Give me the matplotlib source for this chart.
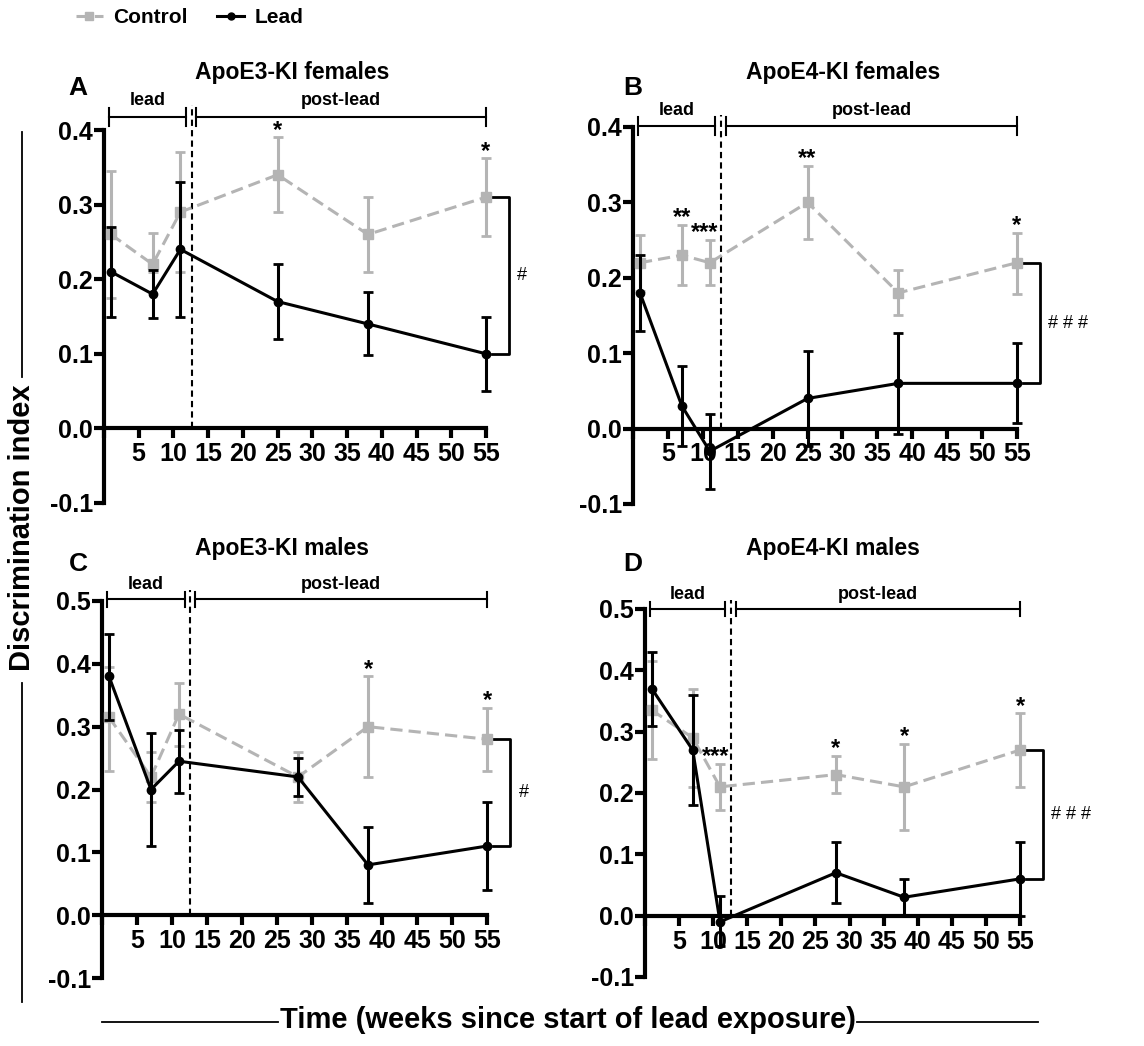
import matplotlib
matplotlib.use("Agg")
import matplotlib.pyplot as plt
from matplotlib.lines import Line2D

plt.rcParams['font.family'] = ['Liberation Sans', 'DejaVu Sans']
plt.rcParams['font.weight'] = 'bold'

# time points (weeks)
weeks_fem = [1, 7, 11, 25, 38, 55]
weeks_male = [1, 7, 11, 28, 38, 55]

# panel A: ApoE3-KI females
ctrl_A = [0.26, 0.22, 0.29, 0.34, 0.26, 0.31]
ctrl_A_lo = [0.175, 0.21, 0.21, 0.29, 0.21, 0.258]
ctrl_A_hi = [0.345, 0.262, 0.37, 0.39, 0.31, 0.362]
lead_A = [0.21, 0.18, 0.24, 0.17, 0.14, 0.10]
lead_A_lo = [0.15, 0.148, 0.15, 0.12, 0.098, 0.05]
lead_A_hi = [0.27, 0.212, 0.33, 0.22, 0.183, 0.15]

# panel B: ApoE4-KI females
ctrl_B = [0.22, 0.23, 0.22, 0.30, 0.18, 0.22]
ctrl_B_lo = [0.183, 0.19, 0.19, 0.252, 0.15, 0.178]
ctrl_B_hi = [0.257, 0.27, 0.25, 0.348, 0.21, 0.26]
lead_B = [0.18, 0.03, -0.03, 0.04, 0.06, 0.06]
lead_B_lo = [0.13, -0.023, -0.08, -0.023, -0.007, 0.007]
lead_B_hi = [0.23, 0.083, 0.02, 0.103, 0.127, 0.113]

# panel C: ApoE3-KI males
ctrl_C = [0.315, 0.22, 0.32, 0.22, 0.30, 0.28]
ctrl_C_lo = [0.23, 0.18, 0.27, 0.18, 0.22, 0.23]
ctrl_C_hi = [0.395, 0.26, 0.37, 0.26, 0.38, 0.33]
lead_C = [0.38, 0.20, 0.245, 0.22, 0.08, 0.11]
lead_C_lo = [0.31, 0.11, 0.195, 0.19, 0.02, 0.04]
lead_C_hi = [0.447, 0.29, 0.295, 0.25, 0.14, 0.18]

# panel D: ApoE4-KI males
ctrl_D = [0.335, 0.29, 0.21, 0.23, 0.21, 0.27]
ctrl_D_lo = [0.255, 0.21, 0.172, 0.20, 0.14, 0.21]
ctrl_D_hi = [0.415, 0.37, 0.248, 0.26, 0.28, 0.33]
lead_D = [0.37, 0.27, -0.01, 0.07, 0.03, 0.06]
lead_D_lo = [0.31, 0.18, -0.05, 0.02, 0.0, 0.0]
lead_D_hi = [0.43, 0.36, 0.032, 0.12, 0.06, 0.12]

# significance marks: (week, label)
stars_A = [(25, '*'), (55, '*')]
stars_B = [(7, '**'), (10.3, '***'), (25, '**'), (55, '*')]
stars_C = [(38, '*'), (55, '*')]
stars_D = [(10.3, '***'), (28, '*'), (38, '*'), (55, '*')]
hash_A, hash_B, hash_C, hash_D = '#', '# # #', '#', '# # #'

GRAY = '#b4b4b4'
W, H = 1144, 1046

fig = plt.figure(figsize=(W / 100, H / 100), dpi=100)


def px_axes(left, top, right, bottom):
    return fig.add_axes([left / W, 1 - bottom / H, (right - left) / W, (bottom - top) / H])


def draw_panel(ax, weeks, c, c_lo, c_hi, l, l_lo, l_hi, ytop, stars, hsh,
               letter, title, letter_xy, title_xy, bar_y):
    ctrl_err = [[m - lo for m, lo in zip(c, c_lo)], [hi - m for m, hi in zip(c, c_hi)]]
    lead_err = [[m - lo for m, lo in zip(l, l_lo)], [hi - m for m, hi in zip(l, l_hi)]]
    ax.errorbar(weeks, c, yerr=ctrl_err, color=GRAY, ls=(0, (4, 2)), lw=2.2,
                marker='s', ms=7, capsize=3.5, capthick=2, elinewidth=2.2,
                clip_on=False, zorder=3)
    ax.errorbar(weeks, l, yerr=lead_err, color='black', ls='-', lw=2.2,
                marker='o', ms=6, capsize=3.5, capthick=2, elinewidth=2.2,
                clip_on=False, zorder=4)

    ax.set_xlim(0, 55)
    ax.set_ylim(-0.1, ytop)
    ax.spines['top'].set_visible(False)
    ax.spines['right'].set_visible(False)
    ax.spines['bottom'].set_position(('data', 0))
    for s in ('left', 'bottom'):
        ax.spines[s].set_linewidth(3)
    xt = list(range(0, 60, 5))
    ax.set_xticks(xt)
    ax.set_xticklabels([''] + [str(v) for v in xt[1:]])
    yt = [round(-0.1 + 0.1 * i, 1) for i in range(int(round((ytop + 0.1) / 0.1)) + 1)]
    ax.set_yticks(yt)
    ax.set_yticklabels(['%.1f' % v for v in yt])
    ax.tick_params(axis='both', direction='out', length=7, width=3, labelsize=18)
    ax.tick_params(axis='y', pad=1)
    ax.tick_params(axis='x', pad=3)

    # lead / post-lead brackets and divider
    for x0, x1, lab in ((0.7, 11.8, 'lead'), (13.3, 55, 'post-lead')):
        ax.plot([x0, x1], [bar_y, bar_y], color='black', lw=1.5, clip_on=False)
        for xe in (x0, x1):
            ax.plot([xe, xe], [bar_y - 0.012, bar_y + 0.012], color='black', lw=1.5, clip_on=False)
        ax.text((x0 + x1) / 2, bar_y + 0.01, lab, ha='center', va='bottom', fontsize=13)
    ax.plot([12.6, 12.6], [0, bar_y + 0.015], color='black', lw=1.5, ls=(0, (3, 2)), clip_on=False)

    # stars over control error bars
    for wk, lab in stars:
        i = min(range(len(weeks)), key=lambda k: abs(weeks[k] - wk))
        ax.annotate(lab, (wk, c_hi[i]), xytext=(0, 0.5), textcoords='offset points',
                    ha='center', va='baseline', fontsize=17)

    # group-effect bracket
    bx = 58.3
    ax.plot([55.9, bx, bx, 55.9], [c[-1], c[-1], l[-1], l[-1]], color='black', lw=2, clip_on=False)
    ax.text(bx + 1.2, (c[-1] + l[-1]) / 2, hsh, ha='left', va='center', fontsize=13, fontweight='normal')

    fig.text(letter_xy[0] / W, 1 - letter_xy[1] / H, letter, ha='center', va='center', fontsize=19)
    fig.text(title_xy[0] / W, 1 - title_xy[1] / H, title, ha='center', va='center', fontsize=16.5)


axA = px_axes(104, 130, 486, 503)
axB = px_axes(633, 127, 1017, 504)
axC = px_axes(102, 601, 487, 978)
axD = px_axes(645, 609, 1020, 977)

draw_panel(axA, weeks_fem, ctrl_A, ctrl_A_lo, ctrl_A_hi, lead_A, lead_A_lo, lead_A_hi,
           0.4, stars_A, hash_A, 'A', 'ApoE3-KI females', (78, 88), (292, 73), 0.418)
draw_panel(axB, weeks_fem, ctrl_B, ctrl_B_lo, ctrl_B_hi, lead_B, lead_B_lo, lead_B_hi,
           0.4, stars_B, hash_B, 'B', 'ApoE4-KI females', (633, 88), (843, 72), 0.401)
draw_panel(axC, weeks_male, ctrl_C, ctrl_C_lo, ctrl_C_hi, lead_C, lead_C_lo, lead_C_hi,
           0.5, stars_C, hash_C, 'C', 'ApoE3-KI males', (78, 564), (282, 549), 0.503)
draw_panel(axD, weeks_male, ctrl_D, ctrl_D_lo, ctrl_D_hi, lead_D, lead_D_lo, lead_D_hi,
           0.5, stars_D, hash_D, 'D', 'ApoE4-KI males', (633, 564), (833, 549), 0.5)

# shared axis labels with rules
fig.text(22 / W, 1 - 528 / H, 'Discrimination index', rotation=90, ha='center', va='center', fontsize=21)
fig.add_artist(Line2D([22 / W, 22 / W], [1 - 132 / H, 1 - 377 / H], color='black', lw=1.3))
fig.add_artist(Line2D([22 / W, 22 / W], [1 - 683 / H, 1 - 1002 / H], color='black', lw=1.3))
fig.text(568 / W, 1 - 1020 / H, 'Time (weeks since start of lead exposure)', ha='center', va='center', fontsize=21)
fig.add_artist(Line2D([102 / W, 278 / W], [1 - 1022 / H, 1 - 1022 / H], color='black', lw=1.3))
fig.add_artist(Line2D([857 / W, 1038 / W], [1 - 1022 / H, 1 - 1022 / H], color='black', lw=1.3))

# legend
handles = [Line2D([], [], color=GRAY, ls=(0, (4, 2)), lw=2.2, marker='s', ms=6),
           Line2D([], [], color='black', lw=2.2, marker='o', ms=5)]
fig.legend(handles, ['Control', 'Lead'], loc='upper left', bbox_to_anchor=(0.05, 1.01),
           ncol=2, frameon=False, fontsize=15, handlelength=1.3, handletextpad=0.5,
           columnspacing=1.4)

fig.savefig('out.png', dpi=100)
